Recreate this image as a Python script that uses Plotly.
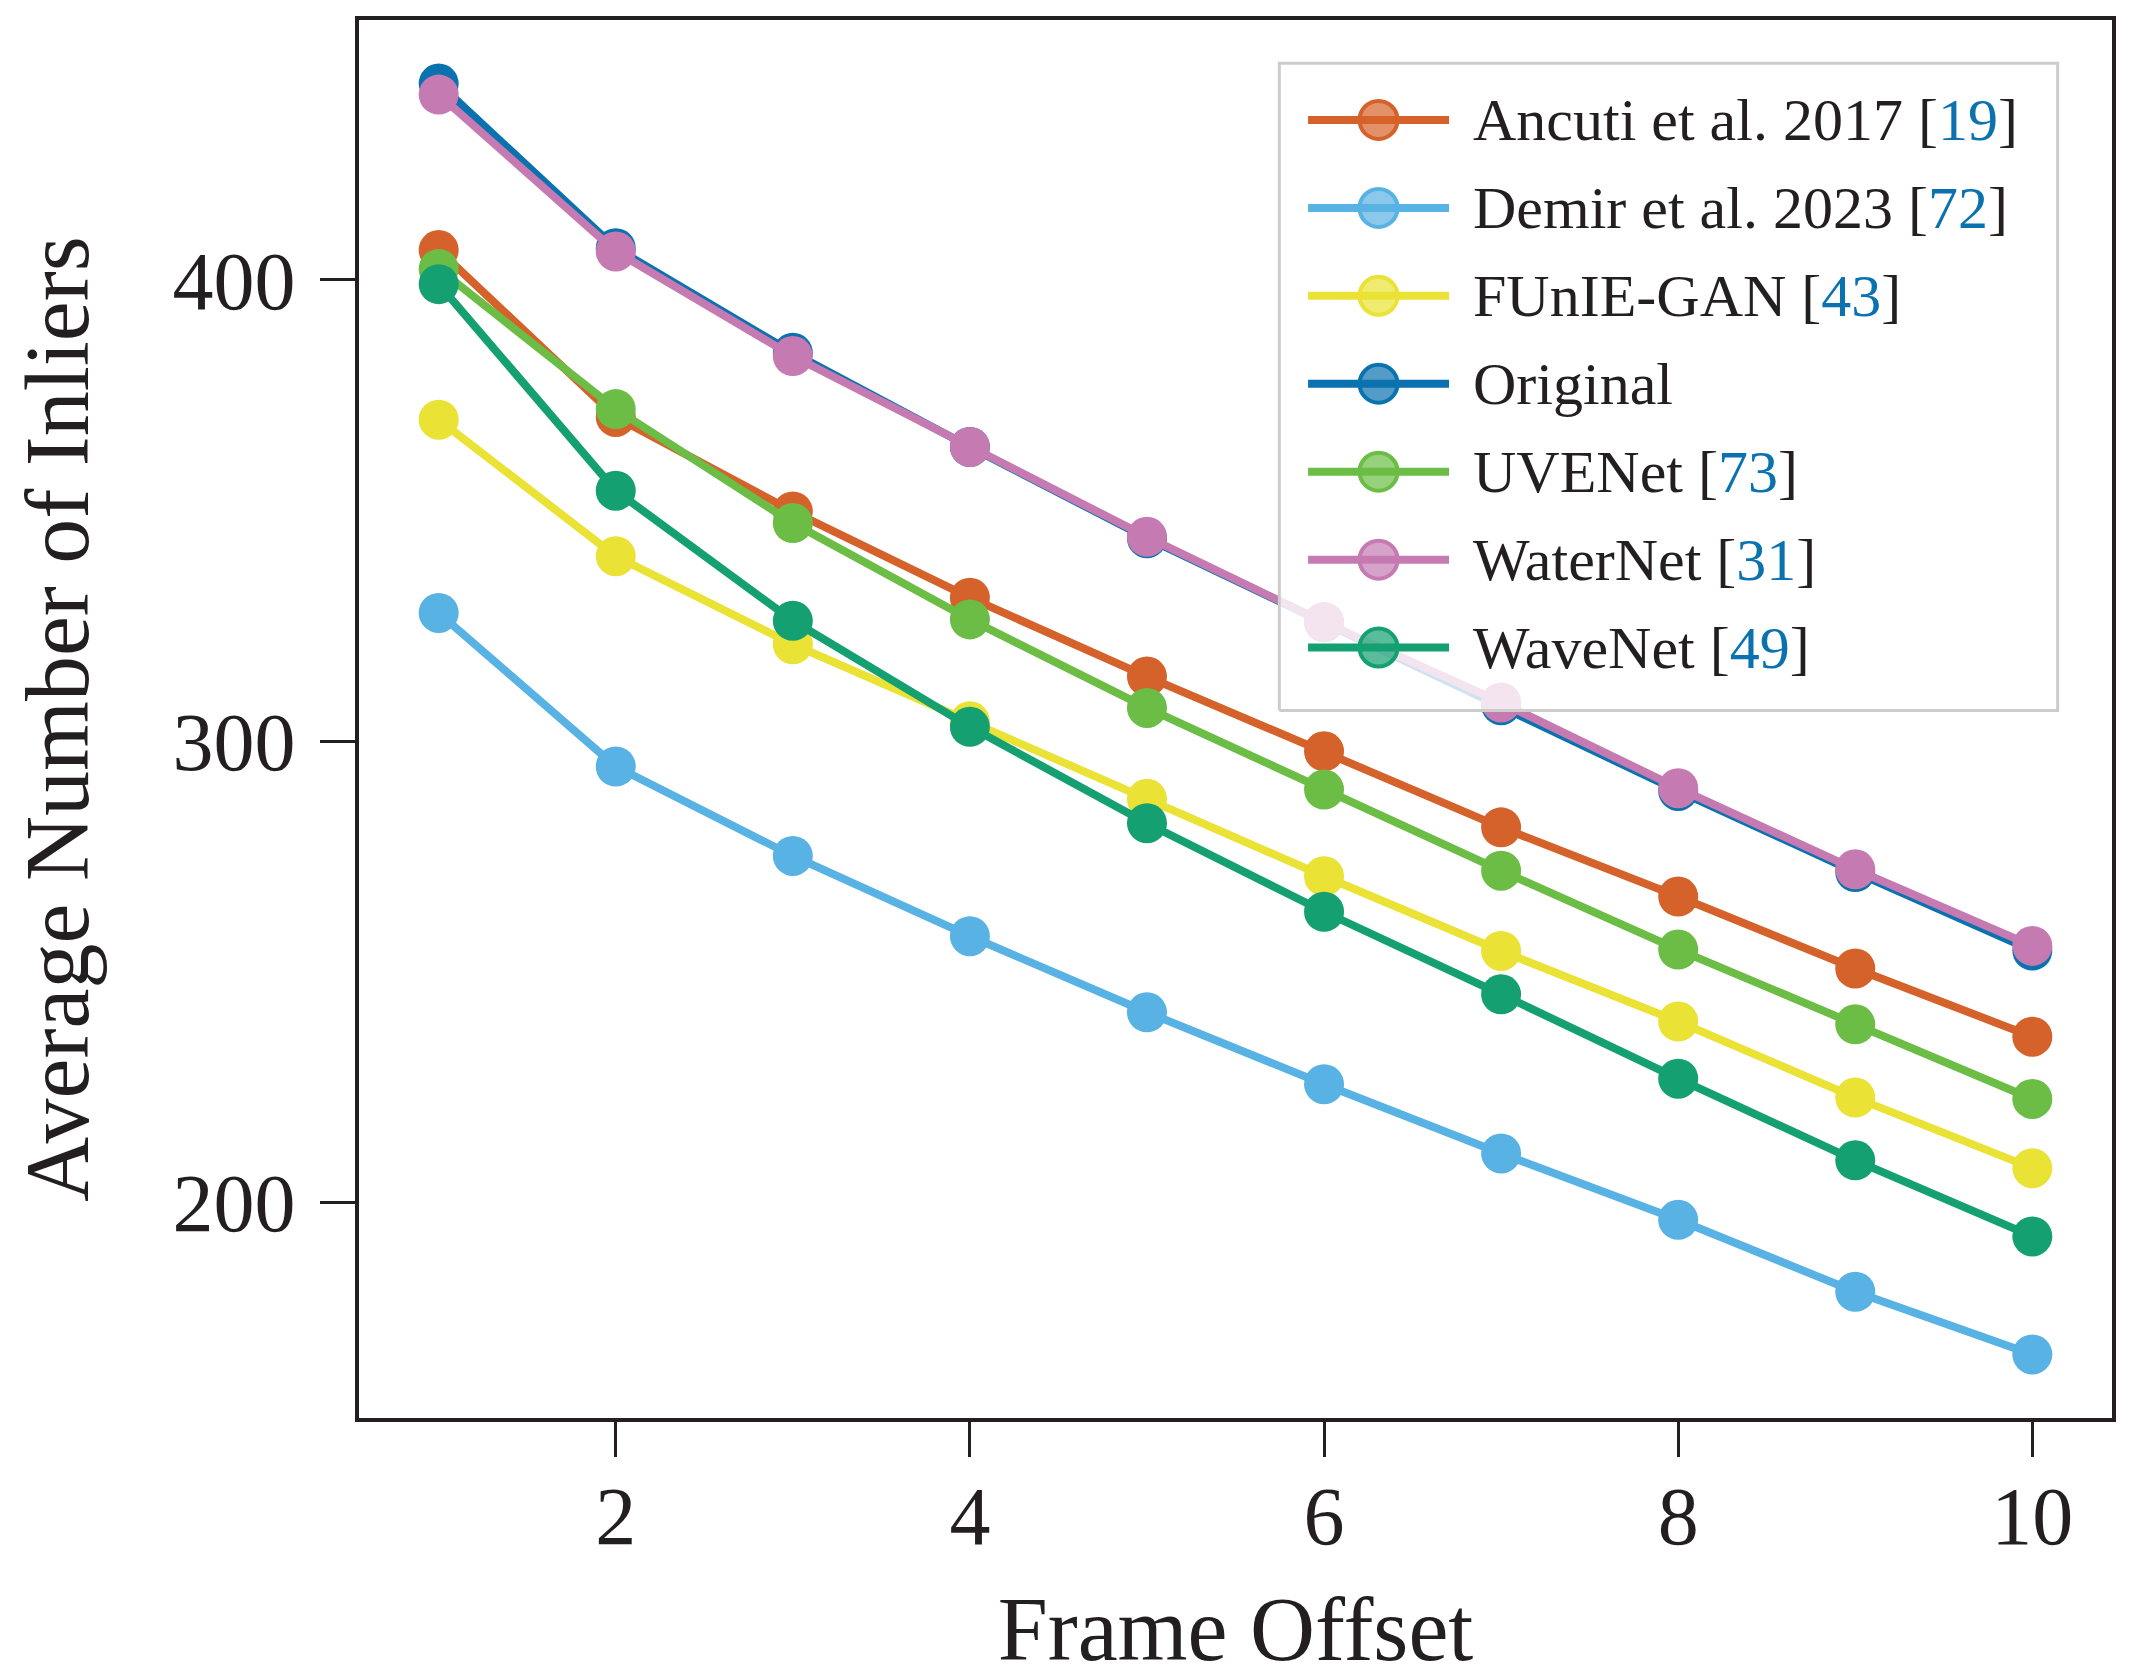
import plotly.graph_objects as go

frame_offset = [1, 2, 3, 4, 5, 6, 7, 8, 9, 10]

ancuti = [406.5, 370.3, 349.8, 331.1, 314.0, 297.8, 281.3, 266.3, 250.7, 235.9]
demir = [327.8, 294.5, 275.1, 257.7, 241.2, 225.6, 210.6, 196.2, 180.6, 167.0]
funie_gan = [369.7, 340.1, 321.0, 304.3, 287.5, 270.7, 254.5, 239.2, 222.7, 207.4]
original = [442.6, 406.9, 384.2, 363.8, 344.0, 325.8, 307.8, 289.2, 271.6, 254.6]
uvenet = [402.4, 372.0, 347.3, 326.4, 307.2, 289.5, 271.9, 254.8, 238.6, 222.4]
waternet = [440.2, 406.2, 383.5, 363.8, 344.3, 325.8, 308.4, 289.8, 272.2, 255.6]
wavenet = [399.1, 354.3, 326.1, 303.1, 282.2, 263.0, 245.1, 226.8, 209.1, 192.6]

names = ["Ancuti et al. 2017", "Demir et al. 2023", "FUnIE-GAN", "Original",
         "UVENet", "WaterNet", "WaveNet"]
refs = ["19", "72", "43", None, "73", "31", "49"]
series = [ancuti, demir, funie_gan, original, uvenet, waternet, wavenet]
colors = ["#D5622A", "#58B2E4", "#EAE234", "#0B72B0", "#6CBD45", "#C67AB2", "#15A072"]

FONT = "Liberation Serif"
INK = "#231F20"
CITE = "#0B72B0"


def rgba(hex_color, a):
    h = hex_color.lstrip("#")
    r, g, b = (int(h[i:i + 2], 16) for i in (0, 2, 4))
    return f"rgba({r},{g},{b},{a})"


fig = go.Figure()

for name, ys, c in zip(names, series, colors):
    fig.add_trace(go.Scatter(x=frame_offset, y=ys, mode="lines+markers", name=name,
                             line=dict(color=c, width=8),
                             marker=dict(color=c, size=40, line=dict(width=0)),
                             showlegend=False))

# matplotlib-like 5% margins
lo = min(min(s) for s in series)
hi = max(max(s) for s in series)
pad = 0.05 * (hi - lo)
xpad = 0.05 * (frame_offset[-1] - frame_offset[0])

# legend drawn on an overlay axis (0..1 over the plot area)
box_x0, box_x1 = 0.525, 0.969
box_y0, box_y1 = 0.506, 0.969
fig.add_trace(go.Scatter(x=[box_x0, box_x1, box_x1, box_x0, box_x0],
                         y=[box_y0, box_y0, box_y1, box_y1, box_y0],
                         mode="lines", fill="toself", fillcolor="rgba(255,255,255,0.8)",
                         line=dict(color="#CCCCCC", width=3), hoverinfo="skip",
                         showlegend=False, xaxis="x2", yaxis="y2"))

row_top = 0.9285
row_step = 0.0629
hx0, hx1, hm, tx = 0.5414, 0.6218, 0.5816, 0.6343
annotations = []
for i, (name, ref, c) in enumerate(zip(names, refs, colors)):
    yy = row_top - i * row_step
    fig.add_trace(go.Scatter(x=[hx0, hx1], y=[yy, yy], mode="lines",
                             line=dict(color=c, width=8), hoverinfo="skip",
                             showlegend=False, xaxis="x2", yaxis="y2"))
    fig.add_trace(go.Scatter(x=[hm], y=[yy], mode="markers",
                             marker=dict(color=rgba(c, 0.7), size=38, line=dict(color=c, width=4)),
                             hoverinfo="skip", showlegend=False, xaxis="x2", yaxis="y2"))
    label = name if ref is None else f'{name} [<span style="color:{CITE}">{ref}</span>]'
    annotations.append(dict(x=tx, y=yy, xref="x2", yref="y2", text=label, showarrow=False,
                            xanchor="left", yanchor="middle",
                            font=dict(family=FONT, size=60, color=INK)))

axis_common = dict(showline=True, linecolor=INK, linewidth=4, mirror=True,
                   ticks="outside", ticklen=35, tickwidth=2.5, tickcolor=INK,
                   showgrid=False, zeroline=False, automargin=False,
                   tickfont=dict(family=FONT, size=82, color=INK))

# page body adds an 8px offset, so the figure is 8px smaller and shifted back
fig.update_layout(
    width=2128, height=1671,
    margin=dict(l=351, r=24, t=12, b=261),
    plot_bgcolor="white", paper_bgcolor="white",
    xaxis=dict(range=[frame_offset[0] - xpad, frame_offset[-1] + xpad],
               tick0=0, dtick=2, ticklabelstandoff=-11,
               title=dict(text="Frame Offset", standoff=78,
                          font=dict(family=FONT, size=90, color=INK)),
               **axis_common),
    yaxis=dict(range=[lo - pad, hi + pad], tick0=0, dtick=100, ticklabelstandoff=8,
               title=dict(text="Average Number of Inliers", standoff=60,
                          font=dict(family=FONT, size=90, color=INK)),
               **axis_common),
    xaxis2=dict(overlaying="x", range=[0, 1], visible=False, fixedrange=True),
    yaxis2=dict(overlaying="y", range=[0, 1], visible=False, fixedrange=True),
    annotations=annotations,
    showlegend=False,
)

fig.write_html("out.html")
